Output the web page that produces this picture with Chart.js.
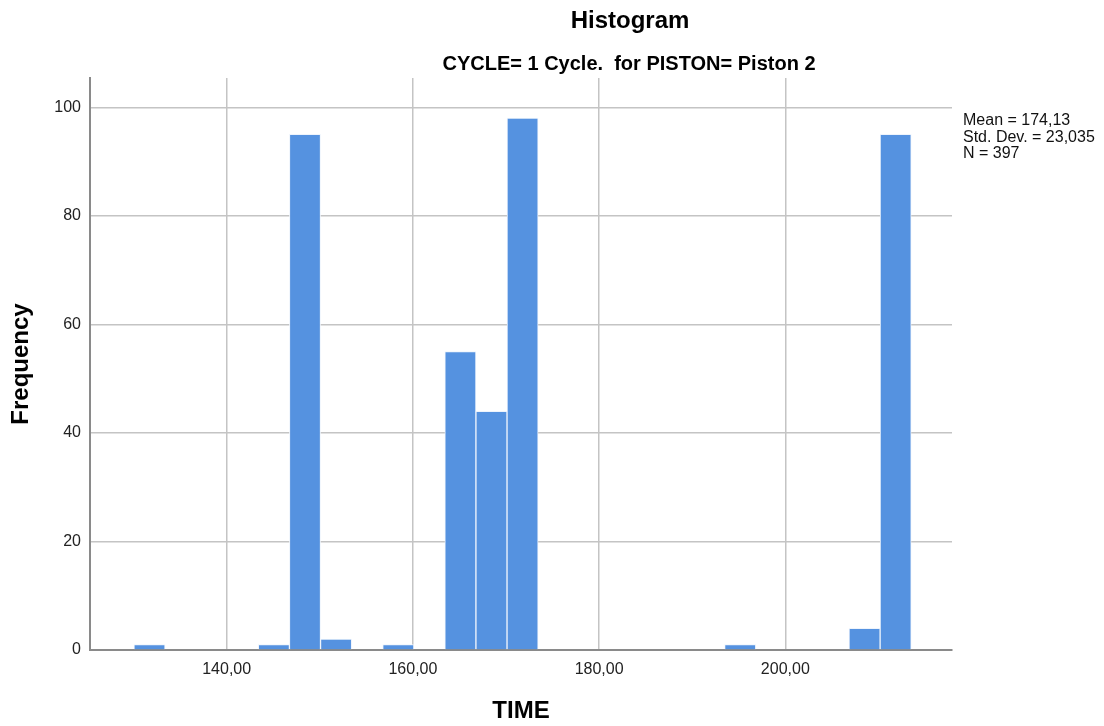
<!DOCTYPE html>
<html>
<head>
<meta charset="utf-8">
<title>Histogram</title>
<script src="https://cdn.jsdelivr.net/npm/chart.js@4.4.1/dist/chart.umd.min.js"></script>
<style>
  html, body { margin: 0; padding: 0; background: #fff; }
  #wrap { width: 1104px; height: 726px; }
</style>
</head>
<body>
<div id="wrap"><canvas id="chart" width="1104" height="726"></canvas></div>
<script>
// histogram bins (centre of each bin) and their counts
const binCenters = [131.71, 145.07, 148.41, 151.75, 158.43, 165.10, 168.44, 171.78, 195.15, 208.51, 211.85]
const frequencies = [1, 1, 95, 2, 1, 55, 44, 98, 1, 4, 95]

const timeTicks = [140, 160, 180, 200]
const freqTicks = [0, 20, 40, 60, 80, 100]

const titleText = 'Histogram'
const subtitleText = 'CYCLE= 1 Cycle.  for PISTON= Piston 2'
const statLines = ['Mean = 174,13', 'Std. Dev. = 23,035', 'N = 397']

const FONT = '"Liberation Sans", Arial, sans-serif'

// titles and the summary box on the right
const headings = {
    id: 'headings',
    afterDraw(chart) {
        const ctx = chart.ctx
        ctx.save()
        ctx.fillStyle = '#000'
        ctx.textAlign = 'center'
        ctx.textBaseline = 'alphabetic'
        ctx.font = 'bold 24px ' + FONT
        ctx.fillText(titleText, 630, 28)
        ctx.font = 'bold 20px ' + FONT
        ctx.fillText(subtitleText, 629, 70)

        ctx.textAlign = 'left'
        ctx.fillStyle = '#111'
        ctx.font = '16px ' + FONT
        statLines.forEach((line, i) => {
            ctx.fillText(line, chart.chartArea.right + 11, 125 + i * 16.5)
        })
        ctx.restore()
    }
}

new Chart('chart', {
    type: 'bar',
    data: {
        datasets: [{
            label: 'Frequency',
            data: binCenters.map((x, i) => ({ x: x, y: frequencies[i] })),
            backgroundColor: '#5592e0',
            borderColor: '#eef4fc',
            borderWidth: 1,
            borderSkipped: 'start',
            barPercentage: 1,
            categoryPercentage: 1
        }]
    },
    options: {
        responsive: false,
        animation: false,
        layout: { padding: { top: 78, right: 152, left: 0, bottom: 0 } },
        plugins: {
            legend: { display: false },
            tooltip: { enabled: false }
        },
        scales: {
            x: {
                type: 'linear',
                min: 125.32,
                max: 217.9,
                offset: false,
                afterBuildTicks: axis => { axis.ticks = timeTicks.map(v => ({ value: v })) },
                afterFit: axis => { axis.height = 76 },
                grid: { offset: false, color: '#c4c4c4', lineWidth: 1.5, drawTicks: false },
                border: { color: '#8a8a8a', width: 2 },
                ticks: {
                    padding: 10,
                    color: '#222',
                    font: { family: FONT, size: 16 },
                    callback: v => v.toFixed(2).replace('.', ',')
                },
                title: {
                    display: true,
                    text: 'TIME',
                    color: '#000',
                    padding: { top: 0, bottom: 0 },
                    font: { family: FONT, size: 24, weight: 'bold' }
                }
            },
            y: {
                min: 0,
                max: 105.4,
                afterBuildTicks: axis => { axis.ticks = freqTicks.map(v => ({ value: v })) },
                afterFit: axis => { axis.width = 90 },
                grid: { color: '#c4c4c4', lineWidth: 1.5, drawTicks: false },
                border: { color: '#8a8a8a', width: 2 },
                ticks: {
                    padding: 9,
                    color: '#222',
                    font: { family: FONT, size: 16 }
                },
                title: {
                    display: true,
                    text: 'Frequency',
                    color: '#000',
                    padding: { top: 7, bottom: 0 },
                    font: { family: FONT, size: 24, weight: 'bold' }
                }
            }
        }
    },
    plugins: [headings]
})
</script>
</body>
</html>
